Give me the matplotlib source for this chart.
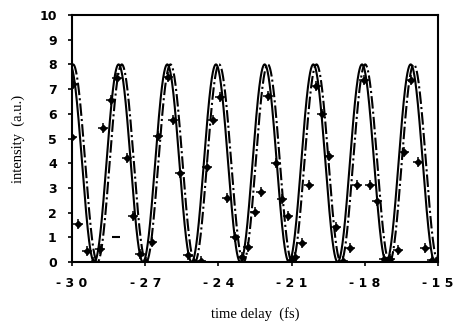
import numpy as np
import matplotlib
matplotlib.use("Agg")
import matplotlib.pyplot as plt

# ---- data ----
meas_t = [-30.0, -29.97, -29.74, -29.40, -29.13, -28.85, -28.72, -28.41, -28.17,
          -27.76, -27.49, -27.21, -26.97, -26.71, -26.46, -26.05, -25.85, -25.57,
          -25.23, -24.98, -24.73, -24.48, -24.21, -23.93, -23.66, -23.32, -23.02,
          -22.77, -22.50, -22.25, -21.97, -21.65, -21.41, -21.14, -21.00, -20.87,
          -20.56, -20.27, -20.02, -19.74, -19.47, -19.17, -18.88, -18.61, -18.33,
          -18.03, -17.79, -17.49, -17.20, -16.96, -16.64, -16.40, -16.12, -15.80,
          -15.53, -15.23]
meas_i = [5.05, 7.2, 1.52, 0.44, 0.0, 0.53, 5.42, 6.57, 7.44,
          4.23, 1.86, 0.31, 0.0, 0.8, 5.1, 7.5, 5.75, 3.59,
          0.3, 0.0, 0.03, 3.85, 5.75, 6.69, 2.58, 1.02, 0.2,
          0.59, 2.03, 2.84, 6.73, 4.0, 2.55, 1.85, 0.08, 0.22,
          0.77, 3.1, 7.14, 5.98, 4.28, 1.41, 0.05, 0.57, 3.12,
          7.37, 3.13, 2.47, 0.12, 0.12, 0.48, 4.45, 7.38, 4.03,
          0.57, 0.09]
odd_t = [-28.21]
odd_i = [1.0]

# fitted fringe curves (cos^2 model) parameters
fit_amplitude = 8.0
fit_period = 1.995
fit_peak = -30.02
fit_shift_solid = -0.065
fit_shift_dash = 0.065

x_ticks = [-30, -27, -24, -21, -18, -15]
y_ticks = list(range(0, 11))

fig = plt.figure(figsize=(4.55, 3.29), dpi=100)
ax = fig.add_axes([72/455, 1-262/329, (438-72)/455, (262-15)/329])

t = np.linspace(-30, -15, 3000)
def model(shift):
    return fit_amplitude * np.cos(np.pi * (t - fit_peak - shift) / fit_period) ** 2

ax.plot(t, model(fit_shift_solid), color="black", lw=1.5, solid_capstyle="butt")
ax.plot(t, model(fit_shift_dash), color="black", lw=1.5, ls=(0, (6, 1.5, 1, 1.5)))

ax.plot(meas_t, meas_i, ls="none", marker="D", ms=3.2, color="black")
ax.plot(meas_t, meas_i, ls="none", marker="+", ms=6.5, mew=1.1, color="black")
ax.plot(odd_t, odd_i, ls="none", marker="_", ms=6, mew=1.5, color="black")

ax.set_xlim(-30, -15)
ax.set_ylim(0, 10)
ax.set_xticks(x_ticks)
ax.set_yticks(y_ticks)
ax.set_xticklabels(["- 3 0", "- 2 7", "- 2 4", "- 2 1", "- 1 8", "- 1 5"],
                   fontsize=9, fontweight="bold", family="DejaVu Sans")
ax.set_yticklabels([str(v) for v in y_ticks], fontsize=9, fontweight="bold",
                   family="DejaVu Sans")
ax.tick_params(axis="both", direction="out", length=3, width=1.2)
ax.tick_params(axis="x", pad=8)
ax.tick_params(axis="y", pad=8)
for s in ax.spines.values():
    s.set_linewidth(1.5)

ax.set_xlabel("time delay  (fs)", fontsize=10.5, family="Liberation Serif", labelpad=12)
ax.set_ylabel("intensity  (a.u.)", fontsize=10.5, family="Liberation Serif", labelpad=10)

fig.savefig("out.png", dpi=100)
